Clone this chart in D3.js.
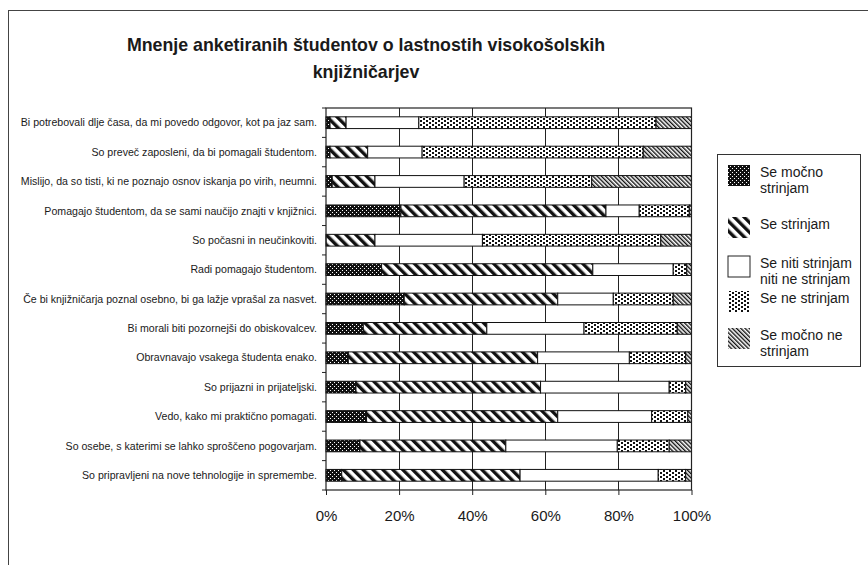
<!DOCTYPE html>
<html>
<head>
<meta charset="utf-8">
<script src="https://cdn.jsdelivr.net/npm/d3@7"></script>
<style>
  html, body { margin: 0; padding: 0; background: #fff; }
  svg { display: block; font-family: "Liberation Sans", Arial, sans-serif; }
</style>
</head>
<body>
<svg id="chart" width="868" height="565"></svg>
<script>
// ---------------- DATA ----------------
const titleLines = ["Mnenje anketiranih študentov o lastnostih visokošolskih", "knjižničarjev"];

const categories = [
  "Bi potrebovali dlje časa, da mi povedo odgovor, kot pa jaz sam.",
  "So preveč zaposleni, da bi pomagali študentom.",
  "Mislijo, da so tisti, ki ne poznajo osnov iskanja po virih, neumni.",
  "Pomagajo študentom, da se sami naučijo znajti v knjižnici.",
  "So počasni in neučinkoviti.",
  "Radi pomagajo študentom.",
  "Če bi knjižničarja poznal osebno, bi ga lažje vprašal za nasvet.",
  "Bi morali biti pozornejši do obiskovalcev.",
  "Obravnavajo vsakega študenta enako.",
  "So prijazni in prijateljski.",
  "Vedo, kako mi praktično pomagati.",
  "So osebe, s katerimi se lahko sproščeno pogovarjam.",
  "So pripravljeni na nove tehnologije in spremembe."
];

const seriesKeys = ["mocnoStrinjam", "strinjam", "niti", "neStrinjam", "mocnoNeStrinjam"];
const seriesLabels = [
  ["Se močno", "strinjam"],
  ["Se strinjam"],
  ["Se niti strinjam", "niti ne strinjam"],
  ["Se ne strinjam"],
  ["Se močno ne", "strinjam"]
];

const mocnoStrinjam   = [1.1, 1.1, 1.7, 20.5, 0.0, 15.2, 21.4, 10.2, 6.1, 8.2, 11.1, 9.3, 4.3];
const strinjam        = [4.4, 10.3, 11.7, 56.1, 13.4, 57.8, 42.0, 33.8, 51.8, 50.5, 52.3, 39.9, 48.8];
const niti            = [19.9, 14.9, 24.4, 9.1, 29.4, 22.0, 15.2, 26.6, 25.1, 35.2, 25.7, 30.5, 37.8];
const neStrinjam      = [64.9, 60.5, 34.9, 13.7, 48.8, 3.7, 16.4, 25.5, 15.4, 4.5, 9.9, 14.2, 7.5];
const mocnoNeStrinjam = [9.7, 13.2, 27.3, 0.6, 8.4, 1.3, 5.0, 3.9, 1.6, 1.6, 1.0, 6.1, 1.6];

const xTickValues = [0, 20, 40, 60, 80, 100];
const xTickLabels = ["0%", "20%", "40%", "60%", "80%", "100%"];

// ---------------- BUILD ----------------
const seriesValues = [mocnoStrinjam, strinjam, niti, neStrinjam, mocnoNeStrinjam];
const rows = categories.map((c, i) => {
  const r = { cat: c };
  seriesKeys.forEach((k, j) => r[k] = seriesValues[j][i]);
  return r;
});
const stacked = d3.stack().keys(seriesKeys)(rows);

const svg = d3.select("#chart");
svg.append("rect").attr("width", 868).attr("height", 565).attr("fill", "#fff");

// patterns
const defs = svg.append("defs");
// strongly agree: black with white dots
{
  const p = defs.append("pattern").attr("id", "pat0").attr("patternUnits", "userSpaceOnUse")
    .attr("width", 4).attr("height", 4);
  p.append("rect").attr("width", 4).attr("height", 4).attr("fill", "#111");
  p.append("rect").attr("x", 0).attr("y", 0).attr("width", 1).attr("height", 1).attr("fill", "#fff");
  p.append("rect").attr("x", 2).attr("y", 2).attr("width", 1).attr("height", 1).attr("fill", "#fff");
}
// agree: thick diagonal stripes "\"
{
  const p = defs.append("pattern").attr("id", "pat1").attr("patternUnits", "userSpaceOnUse")
    .attr("width", 7).attr("height", 7).attr("patternTransform", "rotate(-45)");
  p.append("rect").attr("width", 7).attr("height", 7).attr("fill", "#fff");
  p.append("rect").attr("width", 3.4).attr("height", 7).attr("fill", "#111");
}
// neutral: white
{
  const p = defs.append("pattern").attr("id", "pat2").attr("patternUnits", "userSpaceOnUse")
    .attr("width", 4).attr("height", 4);
  p.append("rect").attr("width", 4).attr("height", 4).attr("fill", "#fff");
}
// disagree: white with black squares
{
  const p = defs.append("pattern").attr("id", "pat3").attr("patternUnits", "userSpaceOnUse")
    .attr("width", 6).attr("height", 4);
  p.append("rect").attr("width", 6).attr("height", 4).attr("fill", "#fff");
  p.append("rect").attr("x", 0).attr("y", 0).attr("width", 2).attr("height", 2).attr("fill", "#111");
  p.append("rect").attr("x", 3).attr("y", 2).attr("width", 2).attr("height", 2).attr("fill", "#111");
}
// strongly disagree: thin diagonal lines "\"
{
  const p = defs.append("pattern").attr("id", "pat4").attr("patternUnits", "userSpaceOnUse")
    .attr("width", 3).attr("height", 3).attr("patternTransform", "rotate(-45)");
  p.append("rect").attr("width", 3).attr("height", 3).attr("fill", "#fff");
  p.append("rect").attr("width", 1.4).attr("height", 3).attr("fill", "#111");
}
const fills = seriesKeys.map((k, i) => `url(#pat${i})`);

// outer border
svg.append("rect").attr("x", 8.5).attr("y", 10.5).attr("width", 900).attr("height", 600)
  .attr("fill", "none").attr("stroke", "#444").attr("stroke-width", 1);

// title
svg.append("text").attr("x", 366).attr("y", 51)
  .attr("text-anchor", "middle").attr("font-size", 17.8).attr("font-weight", "bold").attr("fill", "#1a1a1a")
  .selectAll("tspan").data(titleLines).join("tspan")
  .attr("x", 366).attr("dy", (d, i) => i === 0 ? 0 : 27).text(d => d);

// scales
const x = d3.scaleLinear().domain([0, 100]).range([326, 691.5]);
const y = d3.scaleBand().domain(categories).range([108, 490]).paddingInner(0.6).paddingOuter(0.3);

// gridlines
svg.append("g").selectAll("line").data(xTickValues.slice(1, -1)).join("line")
  .attr("x1", d => Math.round(x(d)) + 0.5).attr("x2", d => Math.round(x(d)) + 0.5)
  .attr("y1", 108).attr("y2", 490).attr("stroke", "#222").attr("stroke-width", 1);

// bars
svg.append("g").selectAll("g").data(stacked).join("g")
  .attr("fill", (d, i) => fills[i])
  .selectAll("rect").data(d => d).join("rect")
  .attr("x", d => x(d[0]))
  .attr("width", d => Math.max(0, x(d[1]) - x(d[0])))
  .attr("y", d => y(d.data.cat))
  .attr("height", y.bandwidth())
  .attr("stroke", d => (d[1] - d[0]) > 0 ? "#111" : "none").attr("stroke-width", 1);

// plot frame
svg.append("rect").attr("x", 326).attr("y", 108).attr("width", 691.5 - 326).attr("height", 490 - 108)
  .attr("fill", "none").attr("stroke", "#222").attr("stroke-width", 1.2);

// x axis
const xAxis = svg.append("g").attr("transform", "translate(0,490)")
  .call(d3.axisBottom(x).tickValues(xTickValues).tickSize(5).tickPadding(15)
    .tickFormat((d, i) => xTickLabels[i]));
xAxis.select(".domain").remove();
xAxis.selectAll("line").attr("stroke", "#222");
xAxis.selectAll("text").attr("font-size", 15).attr("fill", "#1a1a1a")
  .attr("font-family", "'Liberation Sans', Arial, sans-serif");

// y axis ticks at category boundaries
const boundaries = categories.map(c => y(c) - y.step() * y.paddingOuter()).concat([490]);
svg.append("g").selectAll("line").data(boundaries).join("line")
  .attr("x1", 322).attr("x2", 326).attr("y1", d => d).attr("y2", d => d)
  .attr("stroke", "#222");

// y labels
svg.append("g").selectAll("text").data(categories).join("text")
  .attr("x", 317).attr("y", d => y(d) + y.bandwidth() / 2).attr("dy", "0.35em")
  .attr("text-anchor", "end").attr("font-size", 10.6).attr("fill", "#1a1a1a")
  .text(d => d);

// legend
const lg = svg.append("g");
lg.append("rect").attr("x", 717.5).attr("y", 154.5).attr("width", 143).attr("height", 212)
  .attr("fill", "#fff").attr("stroke", "#333").attr("stroke-width", 1);
const legendBaselines = [177, 229, 268, 303, 340];
const items = lg.selectAll("g.item").data(seriesLabels).join("g").attr("class", "item");
items.append("rect").attr("x", 728).attr("y", (d, i) => legendBaselines[i] - 12)
  .attr("width", 22).attr("height", 21)
  .attr("fill", (d, i) => fills[i])
  .attr("stroke", (d, i) => i === 2 ? "#222" : "none");
items.append("text").attr("font-size", 14).attr("fill", "#1a1a1a")
  .attr("y", (d, i) => legendBaselines[i])
  .selectAll("tspan").data(d => d).join("tspan")
  .attr("x", 760).attr("dy", (d, i) => i === 0 ? 0 : 16).text(d => d);
</script>
</body>
</html>
